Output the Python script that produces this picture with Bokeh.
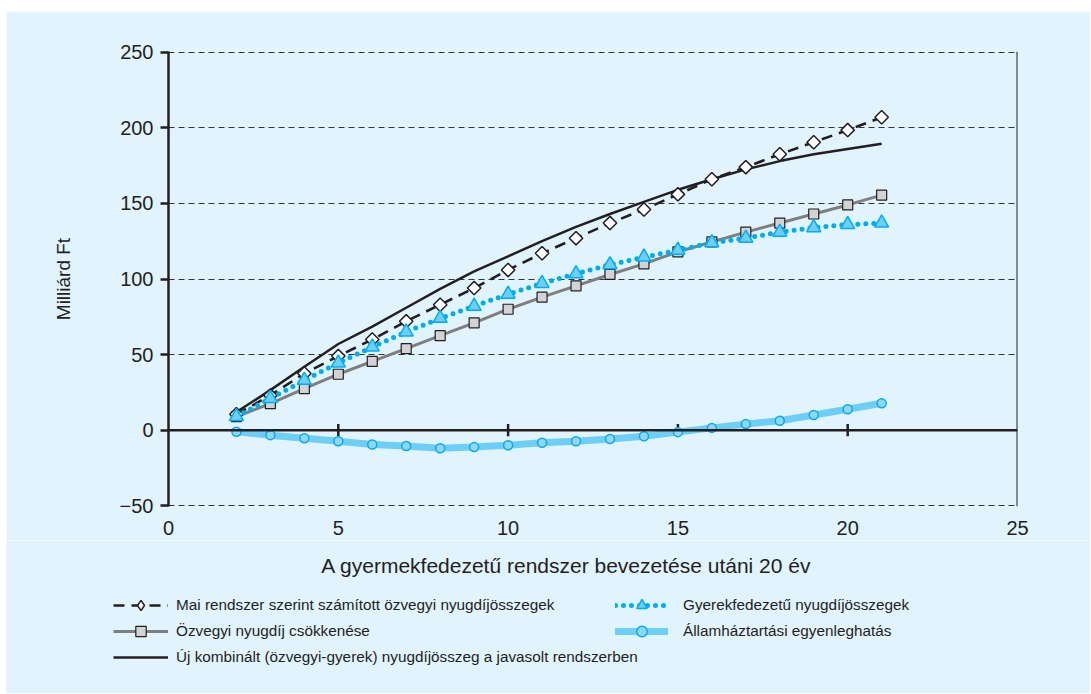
import math
from bokeh.plotting import figure
from bokeh.models import Range1d, Span, Legend, LegendItem, FixedTicker, Label
from bokeh.embed import file_html
from bokeh.resources import INLINE

# ---- data ----
years = list(range(2, 22))
mai = [10.5, 23, 37.5, 49, 60, 72, 83, 94, 106, 117, 127, 137, 146, 156, 166, 174, 182.5, 190.5, 198.5, 207]
csokk = [9, 17.5, 27.5, 37, 45.5, 54, 62.5, 71, 80, 88, 95.5, 103, 110, 118, 124.5, 131, 137, 143, 149, 155.5]
gyerek = [9, 21, 33, 44.5, 55, 65, 74, 82, 90, 97, 103.5, 109.5, 114.5, 119, 124, 127, 131, 134, 136, 137]
uj = [12, 26.5, 42, 57, 68.5, 81, 93.5, 105, 115, 125, 134.5, 143, 151, 159, 166, 172.5, 178, 182.5, 186, 189.5]
allam = [-1.1, -3.3, -5.3, -7.3, -9.5, -10.5, -12, -11.2, -10, -8.3, -7.3, -5.9, -4, -1.3, 1.5, 4, 6.2, 10, 13.8, 17.8]

x_ticks = [0, 5, 10, 15, 20, 25]
y_ticks = [-50, 0, 50, 100, 150, 200, 250]
inner_x_ticks = [5, 10, 15, 20]

labels = [
    "Mai rendszer szerint számított özvegyi nyugdíjösszegek",
    "Özvegyi nyugdíj csökkenése",
    "Új kombinált (özvegyi-gyerek) nyugdíjösszeg a javasolt rendszerben",
    "Gyerekfedezetű nyugdíjösszegek",
    "Államháztartási egyenleghatás",
]
x_title = "A gyermekfedezetű rendszer bevezetése utáni 20 év"
y_title = "Milliárd Ft"

FONT = "Liberation Sans"
INK = "#231f20"
BG = "#e1f3fd"
OX, OY = 6, 11          # white page strip left / top of the blue panel
W = 1084
H_MAIN = 540 - OY
H_LEG = 153

# ---- series styles ----
ST = {
    "allam_l": dict(line_color="#6dcff6", line_width=7, line_cap="round"),
    "allam_s": dict(marker="circle", size=9, fill_color="#8ad9f8", line_color="#0fa8e6", line_width=1.5),
    "uj": dict(line_color=INK, line_width=2.5),
    "cs_l": dict(line_color="#7f7f7f", line_width=3),
    "cs_s": dict(marker="square", size=10, fill_color="#d1d3d4", line_color=INK, line_width=1.2),
    "mai_l": dict(line_color=INK, line_width=2.6, line_dash="11 7"),
    "mai_s": dict(marker="square", angle=math.pi / 4, size=9.5, fill_color="white", line_color=INK, line_width=1.5),
    "mai_leg": dict(marker="diamond", size=14, fill_color="white", line_color=INK, line_width=1.5),
    "gy_l": dict(line_color="#00aeef", line_width=5, line_dash="0 8", line_cap="round"),
    "gy_s": dict(marker="triangle", size=14, fill_color="#6dcff6", line_color="#00aeef", line_width=1.5),
}

p = figure(width=W, height=H_MAIN, output_backend="svg", toolbar_location=None,
           x_range=Range1d(0, 25), y_range=Range1d(-50.5, 250.5),
           min_border_left=168 - OX, min_border_right=W - (1017 - OX), min_border_top=51 - OY,
           min_border_bottom=H_MAIN - (506 - OY))
p.margin = (OY, 0, 0, OX)
p.border_fill_color = BG
p.background_fill_color = BG
p.outline_line_color = None

# grid
p.xgrid.visible = False
p.ygrid.ticker = FixedTicker(ticks=y_ticks)
p.ygrid.grid_line_color = "#333333"
p.ygrid.grid_line_dash = "6 4"
p.ygrid.grid_line_width = 1

# y axis
ya = p.yaxis[0]
ya.ticker = FixedTicker(ticks=y_ticks)
ya.axis_line_color = INK
ya.axis_line_width = 2.5
ya.major_tick_line_color = INK
ya.major_tick_line_width = 2.5
ya.major_tick_out = 8
ya.major_tick_in = 0
ya.minor_tick_line_color = None
ya.major_label_standoff = 7
ya.major_label_text_font = FONT
ya.major_label_text_font_size = "20px"
ya.major_label_text_color = INK
ya.major_label_overrides = {-50: "\u221250"}
ya.axis_label = y_title
ya.axis_label_text_font = FONT
ya.axis_label_text_font_size = "19px"
ya.axis_label_text_font_style = "normal"
ya.axis_label_text_color = INK
ya.axis_label_standoff = 43

# x axis (labels only, drawn under the -50 line)
xa = p.xaxis[0]
xa.ticker = FixedTicker(ticks=x_ticks)
xa.axis_line_color = None
xa.major_tick_line_color = None
xa.minor_tick_line_color = None
xa.major_label_standoff = 8
xa.major_label_text_font = FONT
xa.major_label_text_font_size = "20px"
xa.major_label_text_color = INK

# zero line with crossing ticks, right border line
p.add_layout(Span(location=0, dimension="width", line_color=INK, line_width=2.5))
p.add_layout(Span(location=25, dimension="height", line_color=INK, line_width=2))
tick_half = 4
p.segment(x0=inner_x_ticks, y0=[-tick_half] * len(inner_x_ticks),
          x1=inner_x_ticks, y1=[tick_half] * len(inner_x_ticks),
          line_color=INK, line_width=2.5)

# series
p.line(years, allam, **ST["allam_l"])
p.scatter(years, allam, **ST["allam_s"])
p.line(years, uj, **ST["uj"])
p.line(years, csokk, **ST["cs_l"])
p.scatter(years, csokk, **ST["cs_s"])
p.line(years, mai, **ST["mai_l"])
p.scatter(years, mai, **ST["mai_s"])
p.line(years, gyerek, **ST["gy_l"])
p.scatter(years, gyerek, **ST["gy_s"])

# ---- bottom strip: x-axis title and the legends (separate root, no alignment) ----
q = figure(width=W, height=H_LEG, output_backend="svg", toolbar_location=None,
           x_range=Range1d(0, 1), y_range=Range1d(0, 1),
           x_axis_type=None, y_axis_type=None,
           min_border_left=0, min_border_right=0, min_border_top=0, min_border_bottom=0)
q.margin = (0, 0, 0, OX)
q.border_fill_color = BG
q.background_fill_color = BG
q.outline_line_color = None
q.grid.visible = False

q.add_layout(Label(x=566 - OX, y=H_LEG - 25, x_units="screen", y_units="screen", text=x_title,
                   text_font=FONT, text_font_size="21px", text_color=INK,
                   text_align="center", text_baseline="middle"))

nan = [float("nan")]
g_mai_l = q.line(x=nan, y=nan, **ST["mai_l"])
g_mai_s = q.scatter(x=nan, y=nan, **ST["mai_leg"])
g_cs_l = q.line(x=nan, y=nan, **ST["cs_l"])
g_cs_s = q.scatter(x=nan, y=nan, **ST["cs_s"])
g_uj = q.line(x=nan, y=nan, **ST["uj"])
g_gy_l = q.line(x=nan, y=nan, **ST["gy_l"])
g_gy_s = q.scatter(x=nan, y=nan, **ST["gy_s"])
g_al_l = q.line(x=nan, y=nan, **ST["allam_l"])
g_al_s = q.scatter(x=nan, y=nan, **ST["allam_s"])

ROW_H = 26
def style_legend(lg, gw, standoff):
    lg.background_fill_alpha = 0
    lg.border_line_alpha = 0
    lg.padding = 0
    lg.margin = 0
    lg.spacing = 0
    lg.glyph_height = ROW_H
    lg.label_height = ROW_H
    lg.glyph_width = gw
    lg.label_standoff = standoff
    lg.label_text_font = FONT
    lg.label_text_font_size = "15.3px"
    lg.label_text_color = INK

# row centres at page y = 605, 631, 657; strip spans page y 540..693
leg1_bottom = 693 - (657 + ROW_H // 2)
leg2_bottom = 693 - (631 + ROW_H // 2)

leg1 = Legend(items=[
    LegendItem(label=labels[0], renderers=[g_mai_l, g_mai_s]),
    LegendItem(label=labels[1], renderers=[g_cs_l, g_cs_s]),
    LegendItem(label=labels[2], renderers=[g_uj]),
], location=(113 - OX, leg1_bottom))
style_legend(leg1, 55, 8)

leg2 = Legend(items=[
    LegendItem(label=labels[3], renderers=[g_gy_l, g_gy_s]),
    LegendItem(label=labels[4], renderers=[g_al_l, g_al_s]),
], location=(615 - OX, leg2_bottom))
style_legend(leg2, 53, 15)

q.add_layout(leg1)
q.add_layout(leg2)

open("out.html", "w").write(file_html([p, q], INLINE))
